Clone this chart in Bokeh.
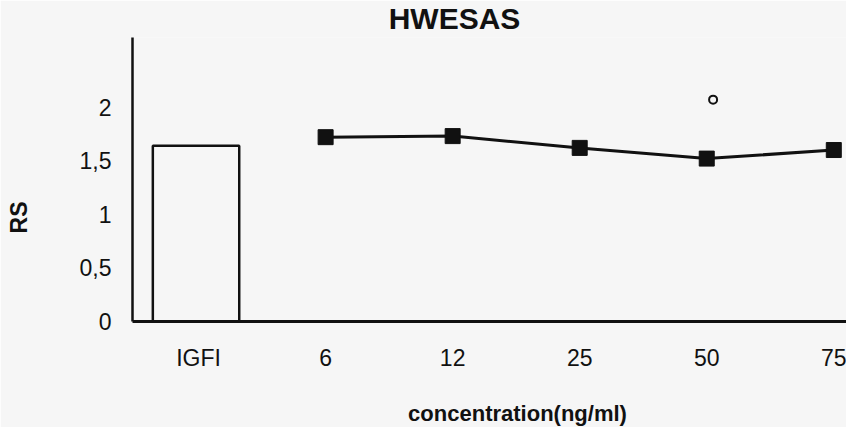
from bokeh.plotting import figure
from bokeh.models import Range1d, FixedTicker, Label
from bokeh.embed import file_html
from bokeh.resources import INLINE
import math

# ---- data ----
categories = ["IGFI", "6", "12", "25", "50", "75"]
bar_category = ["IGFI"]
bar_values = [1.64]
line_categories = ["6", "12", "25", "50", "75"]
line_values = [1.72, 1.73, 1.62, 1.52, 1.60]
extra_categories = ["50"]
extra_values = [2.07]
y_ticks = [0, 0.5, 1, 1.5, 2]
y_tick_labels = ["0", "0,5", "1", "1,5", "2"]
title_text = "HWESAS"
x_label_text = "concentration(ng/ml)"
y_label_text = "RS"

pos = {c: i for i, c in enumerate(categories)}

FONT = "Liberation Sans"
BG = "#f6f6f6"
INK = "#111111"

X0, X1 = -0.52, 5.10
Y0, Y1 = 0.0, 2.65
FRAME_L, FRAME_T, FRAME_B = 132, 37, 321
W, H = 846, 427
px_x = (W - FRAME_L) / (X1 - X0)
px_y = (FRAME_B - FRAME_T) / (Y1 - Y0)


def dx(sx):
    return X0 + (sx - FRAME_L) / px_x


def dy(sy):
    return Y0 + (FRAME_B - sy) / px_y


p = figure(width=W, height=H, output_backend="svg", toolbar_location=None,
           x_range=Range1d(X0, X1), y_range=Range1d(Y0, Y1),
           min_border_left=FRAME_L, min_border_right=0, min_border_top=FRAME_T,
           min_border_bottom=H - FRAME_B)
p.background_fill_color = BG
p.border_fill_color = BG
p.outline_line_color = None
p.grid.grid_line_color = None

p.vbar(x=[pos[c] - 0.02 for c in bar_category], top=bar_values, width=0.68, bottom=0,
       fill_color=BG, line_color=INK, line_width=2.5)
p.line([pos[c] for c in line_categories], line_values, line_color=INK, line_width=3)
p.scatter([pos[c] for c in line_categories], line_values, marker="square", size=15,
          fill_color=INK, line_color=INK)
p.scatter([pos[c] + 0.05 for c in extra_categories], extra_values, marker="circle", size=8,
          fill_color=BG, line_color=INK, line_width=2)

# axes
xa = p.xaxis[0]
xa.ticker = FixedTicker(ticks=list(range(len(categories))))
xa.major_label_overrides = {i: c for i, c in enumerate(categories)}
xa.major_tick_line_color = None
xa.major_tick_out = 0
xa.major_tick_in = 0
xa.minor_tick_line_color = None
xa.axis_line_width = 3
xa.axis_line_color = INK
xa.major_label_text_font = FONT
xa.major_label_text_font_size = "23px"
xa.major_label_text_color = INK
xa.major_label_standoff = 23

ya = p.yaxis[0]
ya.ticker = FixedTicker(ticks=y_ticks)
ya.major_label_overrides = {t: l for t, l in zip(y_ticks, y_tick_labels)}
ya.major_tick_line_color = None
ya.major_tick_out = 0
ya.major_tick_in = 0
ya.minor_tick_line_color = None
ya.axis_line_width = 2.5
ya.axis_line_color = INK
ya.major_label_text_font = FONT
ya.major_label_text_font_size = "23px"
ya.major_label_text_color = INK
ya.major_label_standoff = 21

p.add_layout(Label(x=dx(454), y=dy(18), text=title_text,
                   text_font=FONT, text_font_size="30px", text_font_style="bold",
                   text_align="center", text_baseline="middle", text_color=INK), "above")

p.add_layout(Label(x=dx(517), y=dy(413), text=x_label_text,
                   text_font=FONT, text_font_size="22px", text_font_style="bold",
                   text_align="center", text_baseline="middle", text_color=INK), "below")

p.add_layout(Label(x=dx(18), y=dy(217), text=y_label_text, angle=math.pi / 2,
                   text_font=FONT, text_font_size="23px", text_font_style="bold",
                   text_align="center", text_baseline="middle", text_color=INK), "left")

open("out.html", "w").write(file_html(p, INLINE))
